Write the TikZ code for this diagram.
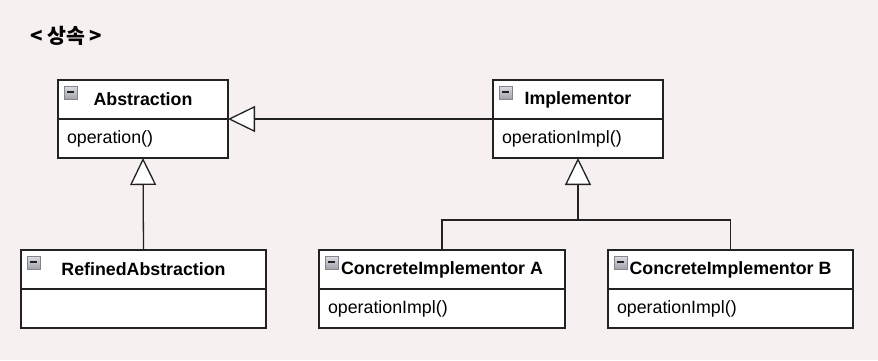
\documentclass[tikz,border=0pt]{standalone}
\usepackage{fontspec}
\setmainfont{Liberation Sans}
\newfontfamily\krfont{Noto Sans CJK KR}
\usepackage{xcolor}
\usepackage{tikz}
\usetikzlibrary{arrows.meta,positioning,calc}
\definecolor{paper}{HTML}{F6F0F0}
\definecolor{ink}{HTML}{222222}
\definecolor{iconhi}{HTML}{DCDCE2}
\definecolor{iconlo}{HTML}{A2A2AC}
\definecolor{iconrim}{HTML}{85858F}

\tikzset{
  classhead/.style={draw=ink, fill=white, line width=1.4pt, inner sep=0pt, outer sep=0pt,
    minimum width=#1, minimum height=39pt, font=\fontsize{17.8}{20}\selectfont\bfseries},
  classbody/.style={draw=ink, fill=white, line width=1.4pt, inner xsep=9pt, inner ysep=0pt,
    outer sep=0pt, text width=#1-18pt, minimum height=39pt, align=left,
    font=\fontsize{17.8}{20}\selectfont},
  inherit/.style={draw=ink, line width=1.3pt,
    -{Triangle[length=27pt, width=26pt, fill=white, line width=1.3pt]}},
  iconbox/.style={draw=iconrim, line width=0.8pt, top color=iconhi, bottom color=iconlo}
}

\begin{document}
\begin{tikzpicture}[x=1pt, y=-1pt]
\useasboundingbox (0,0) rectangle (878,360);
\fill[paper] (0,0) rectangle (878,360);
% title
\node[anchor=west, inner sep=0pt, font=\krfont\fontsize{20.5}{24}\selectfont\bfseries] (title) at (30,36) {< 상속 >};
% abstraction side
\node[classhead=170pt, anchor=north west] (absh) at (58,80) {Abstraction};
\node[classbody=170pt, anchor=north] (absb) at (absh.south) {operation()};
\node[classhead=245pt, anchor=north west] (refh) at (21,250) {RefinedAbstraction};
\node[classbody=245pt, anchor=north] (refb) at (refh.south) {};
% implementor side
\node[classhead=170pt, anchor=north west] (implh) at (493,80) {Implementor};
\node[classbody=170pt, anchor=north] (implb) at (implh.south) {operationImpl()};
\node[classhead=246pt, anchor=north west] (ciah) at (319,250) {ConcreteImplementor A};
\node[classbody=246pt, anchor=north] (ciab) at (ciah.south) {operationImpl()};
\node[classhead=245pt, anchor=north west] (cibh) at (608,250) {ConcreteImplementor B};
\node[classbody=245pt, anchor=north] (cibb) at (cibh.south) {operationImpl()};
% collapse icons
\foreach \c in {absh,refh,implh,ciah,cibh} {
  \draw[iconbox] ([xshift=6pt,yshift=-6pt]\c.north west) rectangle ++(13,13);
  \draw[ink, line width=2pt] ([xshift=9pt,yshift=-11.5pt]\c.north west) -- ++(7,0);
}
% generalizations
\draw[inherit] (implh.south west) -- (absh.south east);
\draw[inherit] (refh.north) -- (absb.south);
\coordinate (joint) at (implb.south |- 0,220);
\draw[ink, line width=1.3pt] (ciah.north) |- (joint) -| (cibh.north);
\draw[inherit] (joint) -- (implb.south);
\end{tikzpicture}
\end{document}
